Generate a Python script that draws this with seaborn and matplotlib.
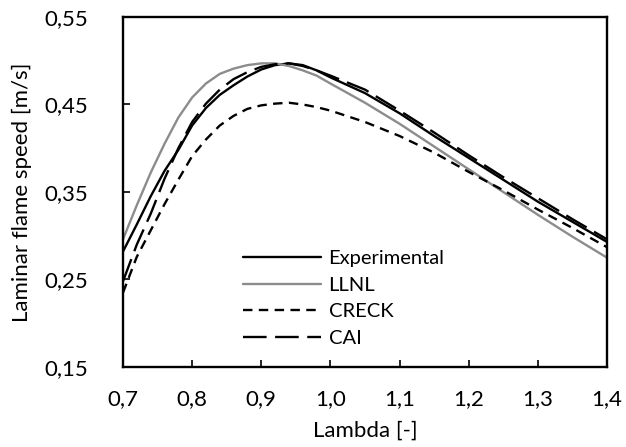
import matplotlib
matplotlib.use("Agg")
import matplotlib.pyplot as plt
import seaborn as sns
import numpy as np
import pandas as pd
from matplotlib.ticker import FuncFormatter

lam = [0.70, 0.72, 0.74, 0.76, 0.78, 0.80, 0.82, 0.84, 0.86, 0.88, 0.90, 0.92,
       0.94, 0.96, 0.98, 1.00, 1.05, 1.10, 1.15, 1.20, 1.25, 1.30, 1.35, 1.40]
experimental = [0.282, 0.313, 0.345, 0.374, 0.398, 0.426, 0.446, 0.461, 0.472, 0.482, 0.490, 0.495,
                0.497, 0.495, 0.489, 0.481, 0.463, 0.440, 0.414, 0.389, 0.364, 0.339, 0.316, 0.293]
llnl = [0.296, 0.335, 0.372, 0.405, 0.435, 0.458, 0.474, 0.485, 0.491, 0.495, 0.497, 0.497,
        0.494, 0.489, 0.483, 0.474, 0.452, 0.428, 0.402, 0.376, 0.350, 0.324, 0.299, 0.275]
creck = [0.235, 0.276, 0.306, 0.336, 0.364, 0.391, 0.410, 0.426, 0.437, 0.445, 0.449, 0.451,
         0.452, 0.450, 0.447, 0.443, 0.430, 0.414, 0.395, 0.373, 0.352, 0.330, 0.309, 0.287]
cai = [0.248, 0.290, 0.325, 0.365, 0.400, 0.430, 0.451, 0.467, 0.479, 0.487, 0.493, 0.496,
       0.497, 0.494, 0.489, 0.483, 0.467, 0.443, 0.418, 0.392, 0.367, 0.343, 0.319, 0.296]

series_names = ["Experimental", "LLNL", "CRECK", "CAI"]
x_ticks = [0.7, 0.8, 0.9, 1.0, 1.1, 1.2, 1.3, 1.4]
y_ticks = [0.15, 0.25, 0.35, 0.45, 0.55]

sns.set_theme(style="white")
plt.rcParams["font.family"] = ["Lato", "DejaVu Sans"]

fig = plt.figure(figsize=(6.26, 4.47), dpi=100)
ax = fig.add_axes([0.1965, 0.179, 0.773, 0.783])

styles = {
    "Experimental": dict(color="black", linestyle="-", lw=1.7),
    "LLNL": dict(color="#8c8c8c", linestyle="-", lw=1.7),
    "CRECK": dict(color="black", linestyle=(0, (4, 2.7)), lw=1.7),
    "CAI": dict(color="black", linestyle=(0, (10, 3.6)), lw=1.7),
}
data = {"Experimental": experimental, "LLNL": llnl, "CRECK": creck, "CAI": cai}

for name in series_names:
    df = pd.DataFrame({"lam": lam, "v": data[name]})
    sns.lineplot(data=df, x="lam", y="v", ax=ax, label=name, **styles[name])

ax.set_xlim(0.7, 1.4)
ax.set_ylim(0.15, 0.55)
ax.set_xticks(x_ticks)
ax.set_yticks(y_ticks)
fmt1 = FuncFormatter(lambda v, p: f"{v:.1f}".replace(".", ","))
fmt2 = FuncFormatter(lambda v, p: f"{v:.2f}".replace(".", ","))
ax.xaxis.set_major_formatter(fmt1)
ax.yaxis.set_major_formatter(fmt2)

for s in ax.spines.values():
    s.set_visible(True)
    s.set_color("black")
    s.set_linewidth(1.7)

ax.tick_params(axis="both", which="major", direction="in", length=5, width=1.2,
               color="black", labelsize=16, labelcolor="black",
               bottom=True, left=True, top=False, right=False)
ax.tick_params(axis="y", pad=25)
ax.tick_params(axis="x", pad=16)
ax.set_xlabel("Lambda [-]", fontsize=16, color="black", labelpad=8)
ax.set_ylabel("Laminar flame speed [m/s]", fontsize=16, color="black", labelpad=9)

leg = ax.legend(loc="lower left", bbox_to_anchor=(0.248, 0.058), frameon=False,
                borderaxespad=0, borderpad=0,
                fontsize=14.5, handlelength=3.85, handletextpad=0.4, labelspacing=0.47)
for t in leg.get_texts():
    t.set_color("black")

fig.savefig("out.png", dpi=100)
